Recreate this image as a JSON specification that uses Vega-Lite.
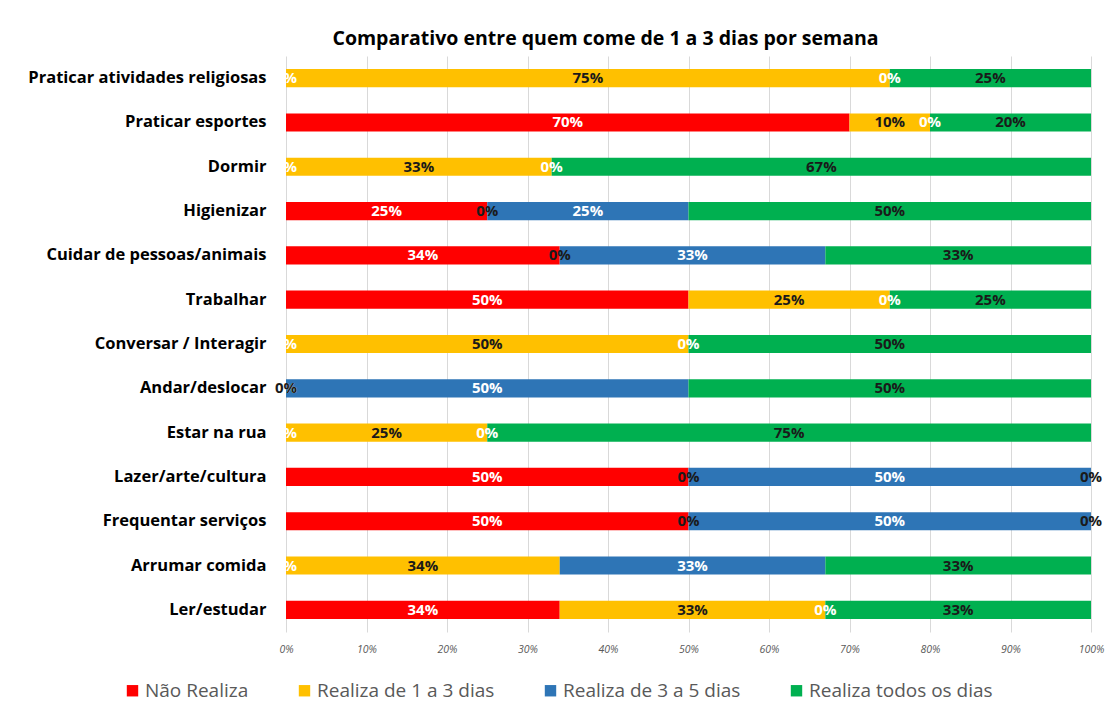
{
  "$schema": "https://vega.github.io/schema/vega-lite/v6.json",
  "width": 805,
  "height": 576,
  "autosize": "none",
  "padding": {"left": 286, "top": 56, "right": 24, "bottom": 79},
  "background": "white",
  "title": {
    "text": "Comparativo entre quem come de 1 a 3 dias por semana",
    "font": "Open Sans",
    "fontSize": 19.5,
    "fontWeight": "bold",
    "color": "#000000",
    "anchor": "middle",
    "dx": -83,
    "offset": 7
  },
  "data": {
    "values": [
      {"act": "Praticar atividades religiosas", "s": "Não Realiza", "k": 0, "v": 0},
      {"act": "Praticar atividades religiosas", "s": "Realiza de 1 a 3 dias", "k": 1, "v": 0.75},
      {"act": "Praticar atividades religiosas", "s": "Realiza de 3 a 5 dias", "k": 2, "v": 0},
      {"act": "Praticar atividades religiosas", "s": "Realiza todos os dias", "k": 3, "v": 0.25},
      {"act": "Praticar esportes", "s": "Não Realiza", "k": 0, "v": 0.70},
      {"act": "Praticar esportes", "s": "Realiza de 1 a 3 dias", "k": 1, "v": 0.10},
      {"act": "Praticar esportes", "s": "Realiza de 3 a 5 dias", "k": 2, "v": 0},
      {"act": "Praticar esportes", "s": "Realiza todos os dias", "k": 3, "v": 0.20},
      {"act": "Dormir", "s": "Não Realiza", "k": 0, "v": 0},
      {"act": "Dormir", "s": "Realiza de 1 a 3 dias", "k": 1, "v": 0.33},
      {"act": "Dormir", "s": "Realiza de 3 a 5 dias", "k": 2, "v": 0},
      {"act": "Dormir", "s": "Realiza todos os dias", "k": 3, "v": 0.67},
      {"act": "Higienizar", "s": "Não Realiza", "k": 0, "v": 0.25},
      {"act": "Higienizar", "s": "Realiza de 1 a 3 dias", "k": 1, "v": 0},
      {"act": "Higienizar", "s": "Realiza de 3 a 5 dias", "k": 2, "v": 0.25},
      {"act": "Higienizar", "s": "Realiza todos os dias", "k": 3, "v": 0.50},
      {"act": "Cuidar de pessoas/animais", "s": "Não Realiza", "k": 0, "v": 0.34},
      {"act": "Cuidar de pessoas/animais", "s": "Realiza de 1 a 3 dias", "k": 1, "v": 0},
      {"act": "Cuidar de pessoas/animais", "s": "Realiza de 3 a 5 dias", "k": 2, "v": 0.33},
      {"act": "Cuidar de pessoas/animais", "s": "Realiza todos os dias", "k": 3, "v": 0.33},
      {"act": "Trabalhar", "s": "Não Realiza", "k": 0, "v": 0.50},
      {"act": "Trabalhar", "s": "Realiza de 1 a 3 dias", "k": 1, "v": 0.25},
      {"act": "Trabalhar", "s": "Realiza de 3 a 5 dias", "k": 2, "v": 0},
      {"act": "Trabalhar", "s": "Realiza todos os dias", "k": 3, "v": 0.25},
      {"act": "Conversar / Interagir", "s": "Não Realiza", "k": 0, "v": 0},
      {"act": "Conversar / Interagir", "s": "Realiza de 1 a 3 dias", "k": 1, "v": 0.50},
      {"act": "Conversar / Interagir", "s": "Realiza de 3 a 5 dias", "k": 2, "v": 0},
      {"act": "Conversar / Interagir", "s": "Realiza todos os dias", "k": 3, "v": 0.50},
      {"act": "Andar/deslocar", "s": "Não Realiza", "k": 0, "v": 0},
      {"act": "Andar/deslocar", "s": "Realiza de 1 a 3 dias", "k": 1, "v": 0},
      {"act": "Andar/deslocar", "s": "Realiza de 3 a 5 dias", "k": 2, "v": 0.50},
      {"act": "Andar/deslocar", "s": "Realiza todos os dias", "k": 3, "v": 0.50},
      {"act": "Estar na rua", "s": "Não Realiza", "k": 0, "v": 0},
      {"act": "Estar na rua", "s": "Realiza de 1 a 3 dias", "k": 1, "v": 0.25},
      {"act": "Estar na rua", "s": "Realiza de 3 a 5 dias", "k": 2, "v": 0},
      {"act": "Estar na rua", "s": "Realiza todos os dias", "k": 3, "v": 0.75},
      {"act": "Lazer/arte/cultura", "s": "Não Realiza", "k": 0, "v": 0.50},
      {"act": "Lazer/arte/cultura", "s": "Realiza de 1 a 3 dias", "k": 1, "v": 0},
      {"act": "Lazer/arte/cultura", "s": "Realiza de 3 a 5 dias", "k": 2, "v": 0.50},
      {"act": "Lazer/arte/cultura", "s": "Realiza todos os dias", "k": 3, "v": 0},
      {"act": "Frequentar serviços", "s": "Não Realiza", "k": 0, "v": 0.50},
      {"act": "Frequentar serviços", "s": "Realiza de 1 a 3 dias", "k": 1, "v": 0},
      {"act": "Frequentar serviços", "s": "Realiza de 3 a 5 dias", "k": 2, "v": 0.50},
      {"act": "Frequentar serviços", "s": "Realiza todos os dias", "k": 3, "v": 0},
      {"act": "Arrumar comida", "s": "Não Realiza", "k": 0, "v": 0},
      {"act": "Arrumar comida", "s": "Realiza de 1 a 3 dias", "k": 1, "v": 0.34},
      {"act": "Arrumar comida", "s": "Realiza de 3 a 5 dias", "k": 2, "v": 0.33},
      {"act": "Arrumar comida", "s": "Realiza todos os dias", "k": 3, "v": 0.33},
      {"act": "Ler/estudar", "s": "Não Realiza", "k": 0, "v": 0.34},
      {"act": "Ler/estudar", "s": "Realiza de 1 a 3 dias", "k": 1, "v": 0.33},
      {"act": "Ler/estudar", "s": "Realiza de 3 a 5 dias", "k": 2, "v": 0},
      {"act": "Ler/estudar", "s": "Realiza todos os dias", "k": 3, "v": 0.33}
    ]
  },
  "transform": [
    {"stack": "v", "groupby": ["act"], "sort": [{"field": "k"}], "as": ["v0", "v1"]},
    {"calculate": "(datum.v0 + datum.v1) / 2", "as": "mid"}
  ],
  "encoding": {
    "y": {
      "field": "act",
      "type": "nominal",
      "sort": null,
      "scale": {"paddingInner": 0.59, "paddingOuter": 0.295},
      "axis": {
        "title": null,
        "ticks": false,
        "domain": false,
        "labelFont": "Open Sans",
        "labelFontSize": 16.5,
        "labelFontWeight": "bold",
        "labelColor": "#000000",
        "labelPadding": 20,
        "labelLimit": 400
      }
    }
  },
  "layer": [
    {
      "mark": {"type": "bar"},
      "encoding": {
        "x": {
          "field": "v0",
          "type": "quantitative",
          "scale": {"domain": [0, 1], "nice": false},
          "axis": {
            "title": null,
            "values": [0, 0.1, 0.2, 0.3, 0.4, 0.5, 0.6, 0.7, 0.8, 0.9, 1],
            "format": ".0%",
            "grid": true,
            "gridColor": "#d9d9d9",
            "gridWidth": 1,
            "ticks": false,
            "domain": false,
            "labelFont": "Open Sans",
            "labelFontSize": 10.5,
            "labelFontStyle": "italic",
            "labelColor": "#595959",
            "labelPadding": 12,
            "labelFlush": false
          }
        },
        "x2": {"field": "v1"},
        "color": {
          "field": "s",
          "type": "nominal",
          "sort": ["Não Realiza", "Realiza de 1 a 3 dias", "Realiza de 3 a 5 dias", "Realiza todos os dias"],
          "scale": {
            "domain": ["Não Realiza", "Realiza de 1 a 3 dias", "Realiza de 3 a 5 dias", "Realiza todos os dias"],
            "range": ["#FF0000", "#FFC000", "#2E75B6", "#00B050"]
          },
          "legend": {
            "title": null,
            "orient": "none",
            "direction": "horizontal",
            "legendX": -163,
            "legendY": 625,
            "symbolType": "square",
            "symbolSize": 130,
            "symbolStrokeWidth": 0,
            "labelFont": "Open Sans",
            "labelFontSize": 19,
            "labelColor": "#595959",
            "labelOffset": 3,
            "columnPadding": 46,
            "labelLimit": 400
          }
        }
      }
    },
    {
      "mark": {"type": "text", "font": "Open Sans", "fontSize": 15, "fontWeight": "bold", "align": "center", "baseline": "middle"},
      "encoding": {
        "x": {"field": "mid", "type": "quantitative"},
        "text": {"field": "v", "type": "quantitative", "format": ".0%"},
        "color": {
          "condition": {"test": "datum.k == 0 || datum.k == 2", "value": "#ffffff"},
          "value": "#1a1a1a"
        }
      }
    }
  ],
  "config": {
    "view": {"stroke": null}
  }
}
